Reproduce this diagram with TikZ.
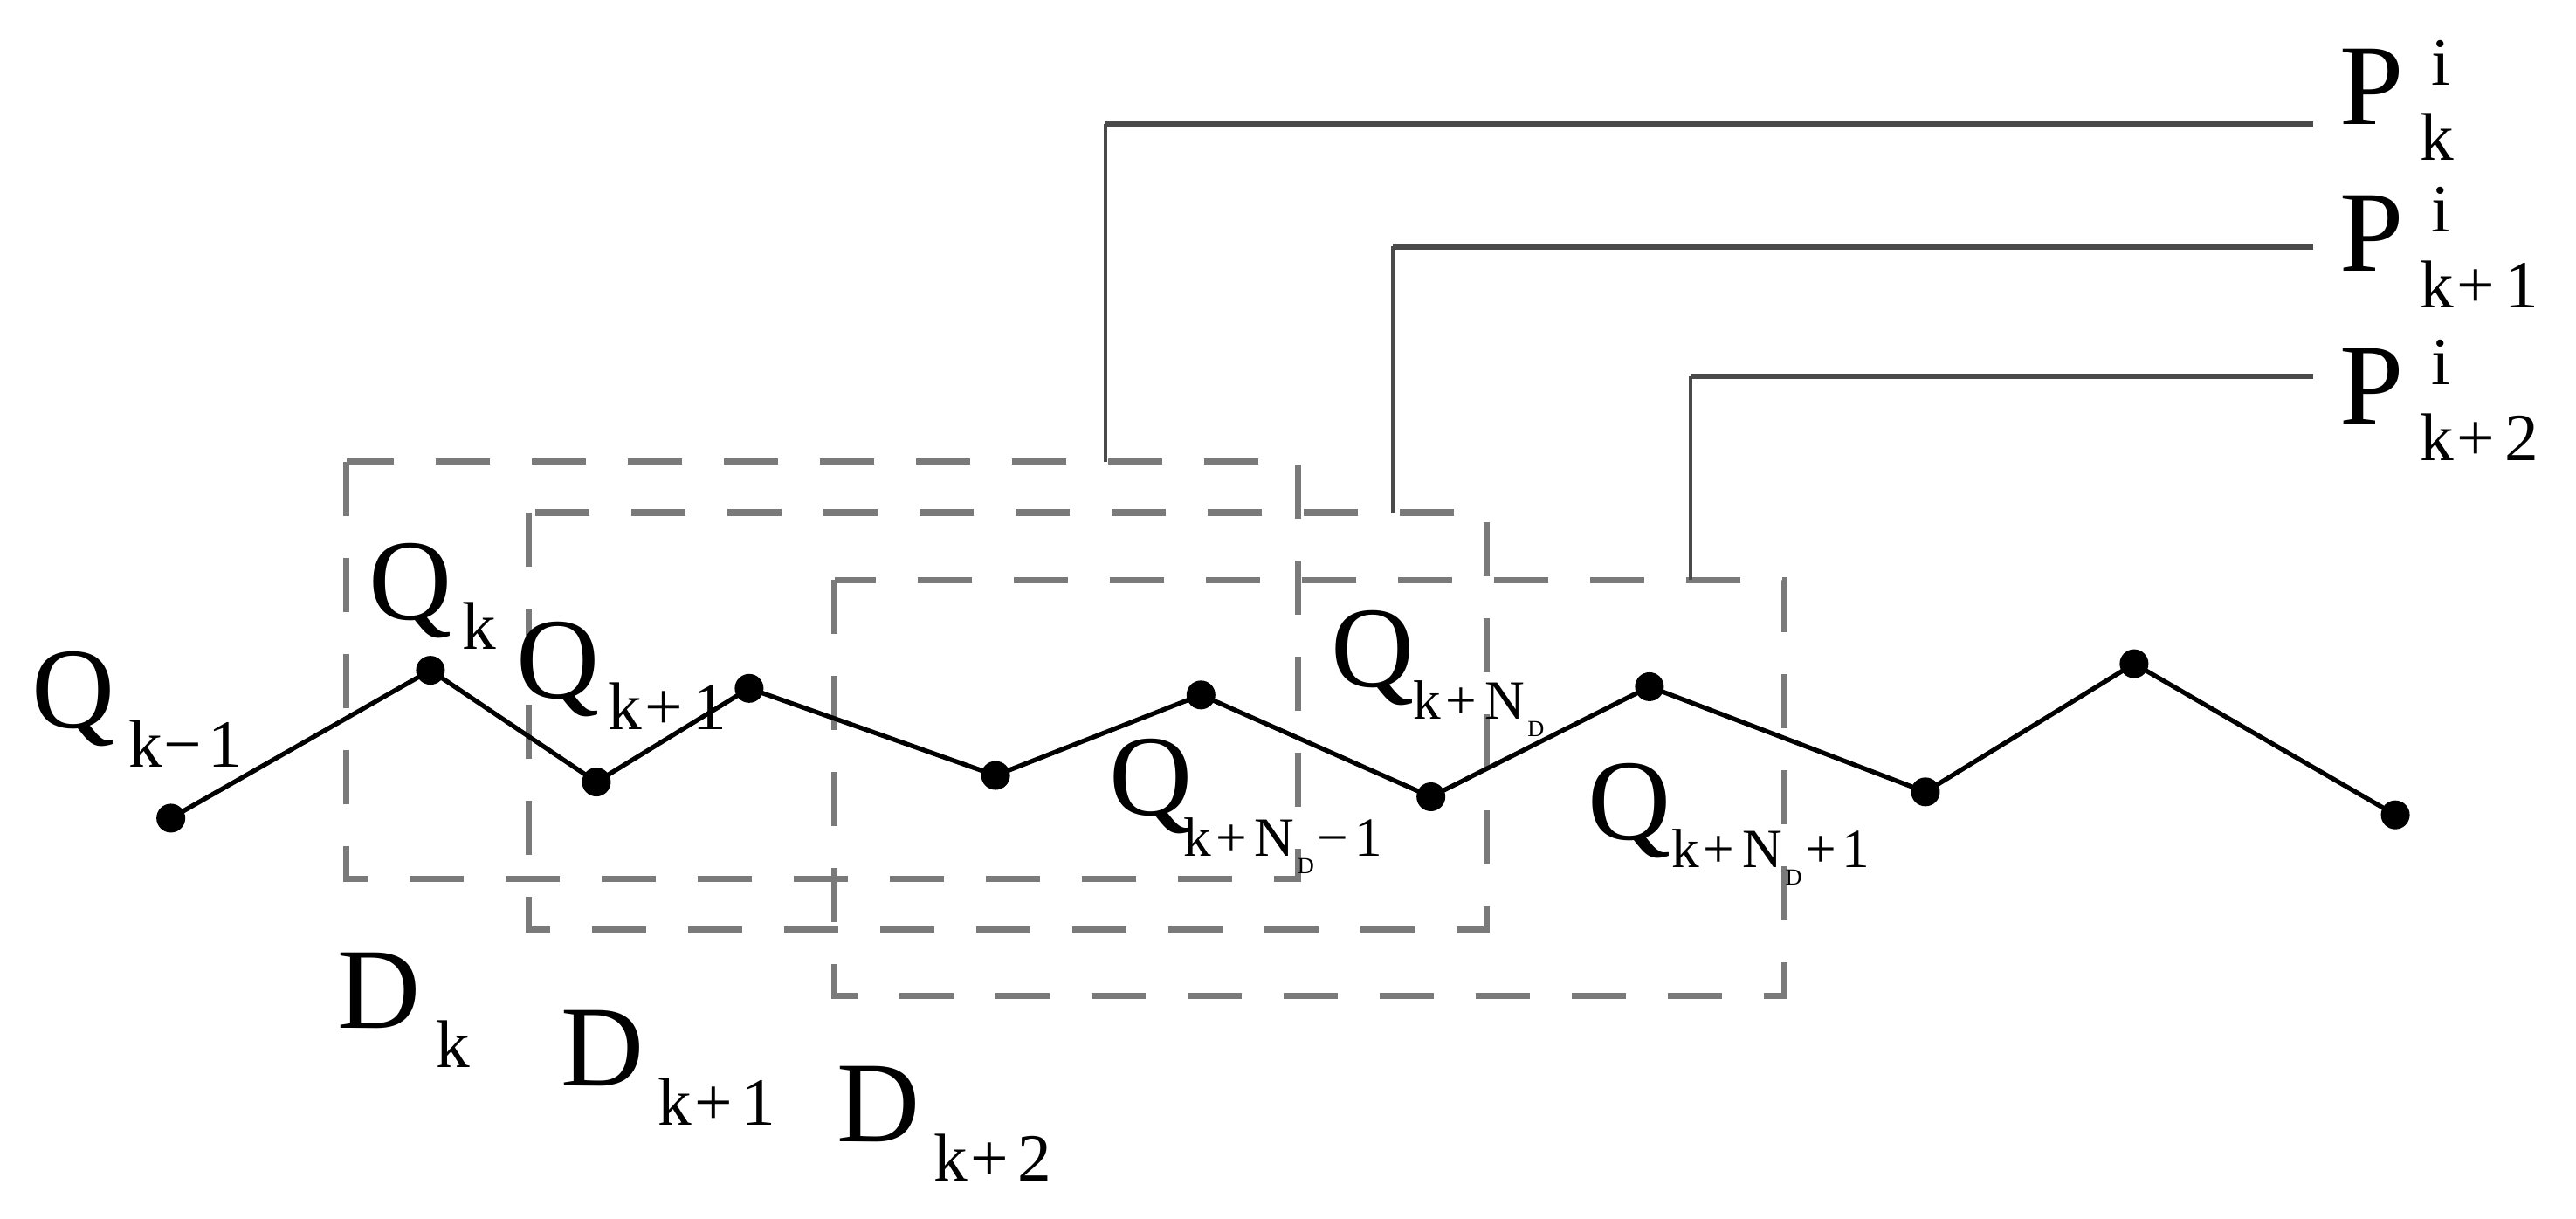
\documentclass[tikz,border=0pt]{standalone}
\usepackage{fontspec}
\setmainfont{Liberation Serif}
\definecolor{boxgray}{HTML}{7A7A7A}
\definecolor{leadgray}{HTML}{4A4A4A}
\newcommand{\ndsub}{\kern1pt\raisebox{-5.7pt}{\fontsize{7.5}{7.5}\selectfont D}\kern1pt}
\newcommand{\pls}{\kern1pt+\kern3pt}
\newcommand{\plsn}{\kern1.5pt+\kern2.5pt}
\newcommand{\plab}[1]{P\hspace{5.3pt}\rlap{\raisebox{12.8pt}{\hspace{3.7pt}\fontsize{22}{22}\selectfont i}}\raisebox{-11.9pt}{\fontsize{22}{22}\selectfont #1}}
\begin{document}
\begin{tikzpicture}[x=0.018814cm,y=-0.018814cm,
  dot/.style={circle,fill=black,inner sep=0pt,minimum size=0.33cm},
  poly/.style={line width=1.5pt,black,line join=miter},
  dbox/.style={draw=boxgray,line width=2pt,dash pattern=on 0.62cm off 0.48cm},
  vlead/.style={draw=leadgray,line width=1.1pt},
  hlead/.style={draw=leadgray,line width=1.9pt},
  big/.style={inner sep=0pt,anchor=base west,font=\fontsize{37.5}{37.5}\selectfont},
  subq/.style={inner sep=0pt,anchor=base west,font=\fontsize{22}{22}\selectfont},
  subn/.style={inner sep=0pt,anchor=base west,font=\fontsize{18}{18}\selectfont},
  subd/.style={inner sep=0pt,anchor=base west,font=\fontsize{22}{22}\selectfont},
]
\useasboundingbox (0,0) rectangle (1568,742);
\fill[white] (0,0) rectangle (1568,742);

% dashed windows
\draw[dbox] (211,281) rectangle (790,535);
\draw[dbox] (322,312) rectangle (905,566);
\draw[dbox] (508,353) rectangle (1086,606);

% leader lines
\coordinate (t1) at (673,281);
\coordinate (t2) at (848,312);
\coordinate (t3) at (1029,353);
\coordinate (c1) at (673,75.5);
\coordinate (c2) at (848,150);
\coordinate (c3) at (1029,229);
\coordinate (e1) at (1408,75.5);
\coordinate (e2) at (1408,150);
\coordinate (e3) at (1408,229);
\draw[vlead] (t1) -- (c1);
\draw[vlead] (t2) -- (c2);
\draw[vlead] (t3) -- (c3);
\draw[hlead] (c1) -- (e1);
\draw[hlead] (c2) -- (e2);
\draw[hlead] (c3) -- (e3);

% polyline
\node[dot] (q1) at (104,498) {};
\node[dot] (q2) at (262,408) {};
\node[dot] (q3) at (363,476) {};
\node[dot] (q4) at (456,419) {};
\node[dot] (q5) at (606,472) {};
\node[dot] (q6) at (731,423) {};
\node[dot] (q7) at (871,485) {};
\node[dot] (q8) at (1004,418) {};
\node[dot] (q9) at (1172,482) {};
\node[dot] (q10) at (1299,404) {};
\node[dot] (q11) at (1458,496) {};
\draw[poly] (q1.center) -- (q2.center) -- (q3.center) -- (q4.center) -- (q5.center) -- (q6.center) -- (q7.center) -- (q8.center) -- (q9.center) -- (q10.center) -- (q11.center);

% Q labels
\node[big] (Qa) at (19,443) {Q};
\node[subq] (Qas) at (78,467) {k\kern0.5pt−\kern2pt1};
\node[big] (Qb) at (224,377) {Q};
\node[subq] (Qbs) at (281,395) {k};
\node[big] (Qc) at (314,425) {Q};
\node[subq] (Qcs) at (370,444) {k\pls1};
\node[big] (Qd) at (675,496) {Q};
\node[subn] (Qds) at (720,521) {k\plsn N\ndsub−\kern2pt1};
\node[big] (Qe) at (810,418) {Q};
\node[subn] (Qes) at (860,437.5) {k\plsn N\ndsub};
\node[big] (Qf) at (966,511) {Q};
\node[subn] (Qfs) at (1017,528) {k\plsn N\ndsub+\kern2pt1};

% D labels
\node[big] (Da) at (205,626) {D};
\node[subd] (Das) at (265,650) {k};
\node[big] (Db) at (341,661) {D};
\node[subd] (Dbs) at (400,685) {k\pls1};
\node[big] (Dc) at (509,695) {D};
\node[subd] (Dcs) at (568,719) {k\pls2};

% P labels
\node[big] (Pa) at (1424,75.5) {\plab{k}};
\node[big] (Pb) at (1424,165) {\plab{k\pls1}};
\node[big] (Pc) at (1424,258) {\plab{k\pls2}};
\end{tikzpicture}
\end{document}
